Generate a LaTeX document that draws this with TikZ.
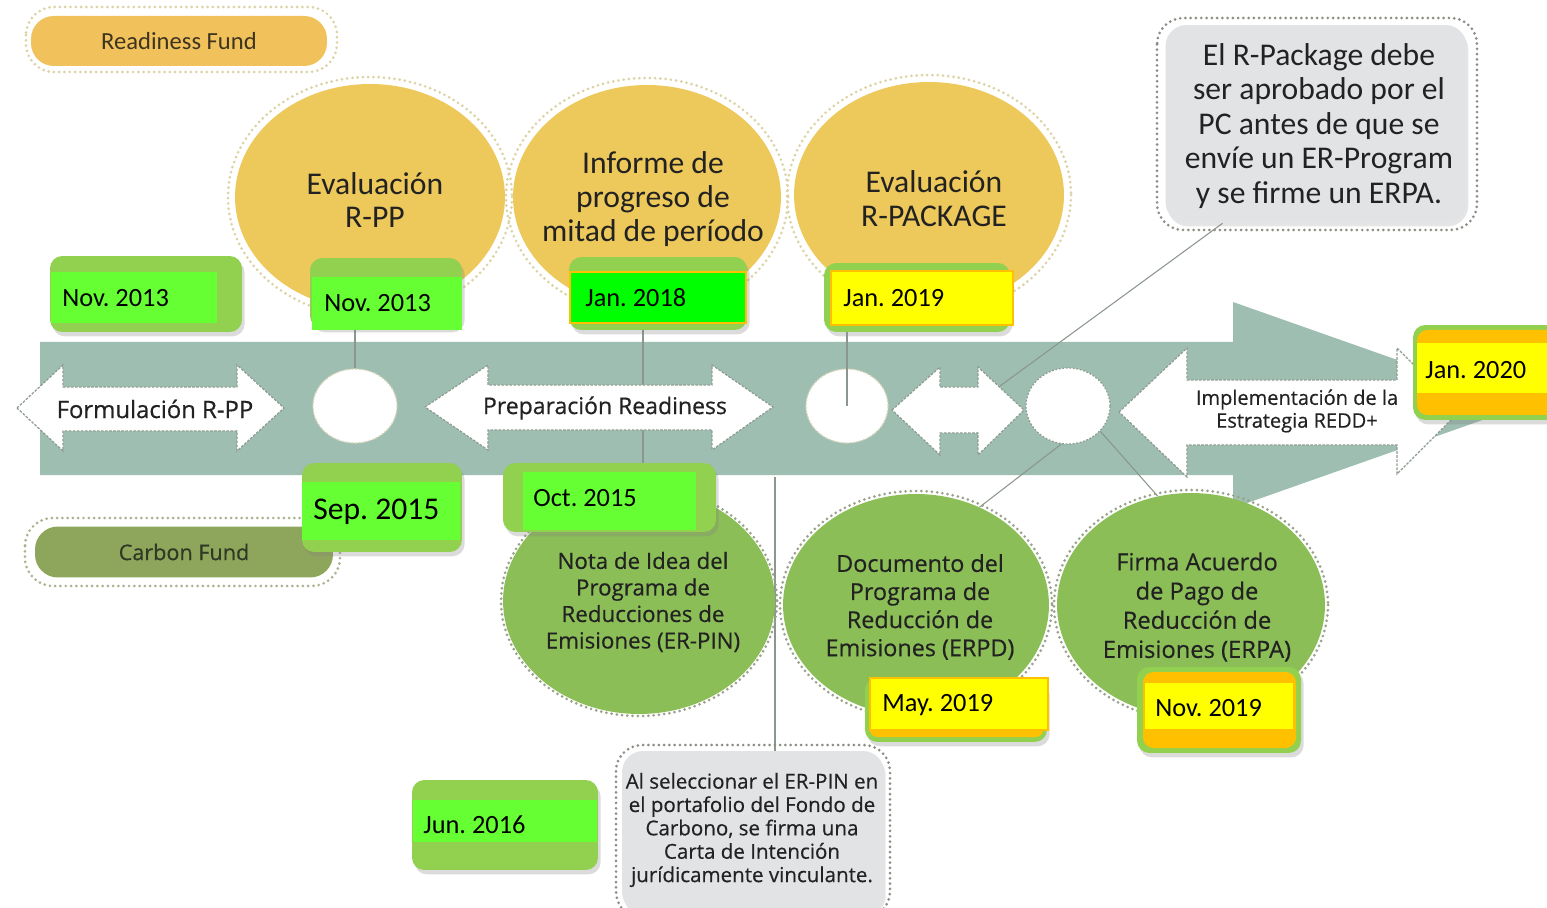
\documentclass[tikz,border=0pt]{standalone}
\usepackage{fontspec}
\setmainfont{Carlito}
\newfontfamily\os{Open Sans}[FakeBold=0.45]
\usetikzlibrary{shapes.geometric,shadows,calc}
\frenchspacing
\definecolor{band}{HTML}{9DBEB1}
\definecolor{yellowc}{HTML}{EDC85A}
\definecolor{yhalo}{HTML}{DCD3A4}
\definecolor{rfund}{HTML}{F1C25B}
\definecolor{rftext}{HTML}{3E3420}
\definecolor{cfund}{HTML}{8EA65B}
\definecolor{cftext}{HTML}{2F3A25}
\definecolor{cfhalo}{HTML}{A9B38C}
\definecolor{ghalo}{HTML}{9AA28A}
\definecolor{greenc}{HTML}{8CBE57}
\definecolor{notefill}{HTML}{E2E3E5}
\definecolor{notehalo}{HTML}{8D8D85}
\definecolor{dgreen}{HTML}{92D050}
\definecolor{bgreen}{HTML}{66FF33}
\definecolor{lgreen}{HTML}{00FF00}
\definecolor{orangec}{HTML}{FFC000}
\definecolor{yel}{HTML}{FFFF00}
\definecolor{linec}{HTML}{8A968E}
\definecolor{arrowedge}{HTML}{8E9C90}
\definecolor{wedge}{HTML}{D9D6BC}
\definecolor{txt}{HTML}{222222}
\pgfdeclarelayer{back}
\pgfdeclarelayer{mid}
\pgfsetlayers{back,mid,main}
\tikzset{
  yell/.style={ellipse, fill=yellowc, inner sep=0},
  grn/.style={ellipse, fill=greenc, inner sep=0},
  wcirc/.style={ellipse, fill=white, draw=wedge, dash pattern=on 1.2pt off 0.8pt, line width=0.7pt, inner sep=0},
  warrow/.style={fill=white, draw=arrowedge, dash pattern=on 1.5pt off 0.8pt, line width=0.7pt},
  halo/.style={draw=#1, line width=1.7pt, dash pattern=on 0pt off 3pt, line cap=round},
  obox/.style={rectangle, rounded corners=7pt, fill=dgreen, inner sep=0,
    drop shadow={shadow xshift=1.5pt, shadow yshift=-2.5pt, opacity=.28}},
  dtext/.style={anchor=west, inner sep=0, text=black, font=\fontsize{15}{18}\selectfont},
  conn/.style={draw=linec, line width=0.6pt},
  ytext/.style={align=center, inner sep=0, text=txt, font=\fontsize{18}{19.3}\selectfont},
  gtext/.style={align=center, inner sep=0, text=txt, font=\os\fontsize{13.3}{16}\selectfont},
  atext/.style={inner sep=0, text=txt, font=\os\fontsize{13.6}{16}\selectfont},
  notebox/.style={rectangle, rounded corners=12pt, fill=notefill, inner sep=0,
    drop shadow={shadow xshift=1pt, shadow yshift=-2pt, opacity=.2}},
}
\begin{document}
\begin{tikzpicture}[x=0.02cm,y=-0.02cm]
\useasboundingbox (0,0) rectangle (1547,908);
\begin{pgfonlayer}{back}
\fill[white] (0,0) rectangle (1547,908);
\fill[band] (40,342) -- (1233,342) -- (1233,302) -- (1525,405) -- (1233,508) -- (1233,475) -- (40,475) -- cycle;
\end{pgfonlayer}

% fund labels
\draw[halo=yhalo, rounded corners=16pt] (26,7) rectangle (337,72);
\node[rectangle, rounded corners=13pt, fill=rfund, minimum width=5.92cm, minimum height=1cm, inner sep=0,
  text=rftext, font=\fontsize{14}{16}\selectfont] (rf) at (179,41) {Readiness Fund};
\draw[halo=cfhalo, rounded corners=16pt] (25,518) rectangle (340,586);
\node[rectangle, rounded corners=13pt, fill=cfund, minimum width=5.96cm, minimum height=1.02cm, inner sep=0,
  text=cftext, font=\os\fontsize{12.3}{14}\selectfont] (cf) at (184,552) {Carbon Fund};

% white arrows on the band
\draw[warrow] (17,408) -- (63,365) -- (63,387) -- (237,387) -- (237,365) -- (284,408) -- (237,451) -- (237,431) -- (63,431) -- (63,451) -- cycle;
\node[atext] (formT) at (155,409) {Formulación R-PP};
\draw[warrow] (425,407) -- (488,365) -- (488,385) -- (712,385) -- (712,365) -- (773,407) -- (712,450) -- (712,430) -- (488,430) -- (488,450) -- cycle;
\node[atext, font=\os\fontsize{13.1}{16}\selectfont] (prepT) at (605,408) {Preparación Readiness};
\draw[warrow] (892,410) -- (940,367) -- (940,387) -- (978,387) -- (978,367) -- (1024,410) -- (978,455) -- (978,433) -- (940,433) -- (940,455) -- cycle;
\draw[warrow] (1119,412) -- (1187,348) -- (1187,380) -- (1397,380) -- (1397,348) -- (1460,411) -- (1397,474) -- (1397,445) -- (1187,445) -- (1187,477) -- cycle;
\node[align=center, inner sep=0, text=txt, font=\os\fontsize{11.4}{13}\selectfont] (implT) at (1297,411) {Implementación de la\\Estrategia REDD+};

% white circles
\node[wcirc, minimum width=1.68cm, minimum height=1.48cm] (c1) at (355,406) {};
\node[wcirc, minimum width=1.64cm, minimum height=1.48cm] (c2) at (847,406) {};
\node[wcirc, draw=arrowedge, dash pattern=on 1pt off 1pt, minimum width=1.68cm, minimum height=1.52cm] (c3) at (1068,406) {};
\coordinate (sarr) at (1000,386);
\coordinate (bandB) at (775,477);

% yellow ellipses
\draw[halo=yhalo] (370,197) ellipse [x radius=142, y radius=120];
\node[yell, minimum width=5.4cm, minimum height=4.52cm] (evrpp) at (370,197) {};
\node[ytext] (evrppT) at (375,200) {Evaluación\\R-PP};
\draw[halo=yhalo] (647,197) ellipse [x radius=141, y radius=119];
\node[yell, minimum width=5.36cm, minimum height=4.48cm] (inf) at (647,197) {};
\node[ytext] (infT) at (653,199) {Informe de\\progreso de\\mitad de período};
\draw[halo=yhalo] (929,195) ellipse [x radius=142, y radius=120];
\node[yell, minimum width=5.4cm, minimum height=4.52cm] (evpkg) at (929,195) {};
\node[ytext] (evpkgT) at (934,199) {Evaluación\\R-PACKAGE};

% green ellipses
\draw[halo=ghalo] (639,601) ellipse [x radius=138, y radius=115];
\node[grn, minimum width=5.44cm, minimum height=4.52cm] (erpin) at (639,601) {};
\node[gtext, font=\os\fontsize{12.7}{15.1}\selectfont] (erpinT) at (643,602) {Nota de Idea del\\Programa de\\Reducciones de\\Emisiones (ER-PIN)};
\draw[halo=ghalo] (916,605) ellipse [x radius=136, y radius=114];
\node[grn, minimum width=5.32cm, minimum height=4.44cm] (erpd) at (916,605) {};
\node[gtext] (erpdT) at (920,607) {Documento del\\Programa de\\Reducción de\\Emisiones (ERPD)};
\draw[halo=ghalo] (1191,605) ellipse [x radius=137, y radius=115];
\node[grn, minimum width=5.36cm, minimum height=4.48cm] (erpa) at (1191,605) {};
\node[gtext, font=\os\fontsize{13.5}{16.6}\selectfont] (erpaT) at (1197,607) {Firma Acuerdo\\de Pago de\\Reducción de\\Emisiones (ERPA)};

% notes
\draw[halo=notehalo, rounded corners=15pt] (1157,18) rectangle (1477,230);
\node[notebox, minimum width=6.02cm, minimum height=3.96cm] (note1) at (1316,124) {};
\node[ytext, font=\fontsize{18}{19.6}\selectfont] (note1T) at (1319,126) {El R-Package debe\\ser aprobado por el\\PC antes de que se\\envíe un ER-Program\\y se firme un ERPA.};
\draw[halo=notehalo, rounded corners=15pt] (616,745) rectangle (890,918);
\node[notebox, minimum width=5.24cm, minimum height=3.24cm] (note2) at (753,832) {};
\node[align=center, inner sep=0, text=txt, font=\os\fontsize{11.7}{13.3}\selectfont] (note2T) at (752,830) {Al seleccionar el ER-PIN en\\el portafolio del Fondo de\\Carbono, se firma una\\Carta de Intención\\jurídicamente vinculante.};

% date boxes
\node[obox, minimum width=3.84cm, minimum height=1.52cm] (n13a) at (146,294) {};
\fill[bgreen] (51,272) rectangle (217,323);
\node[dtext] (n13aT) at (62,298) {Nov. 2013};

\node[obox, minimum width=3.04cm, minimum height=1.4cm] (n13b) at (386,293) {};
\fill[bgreen] (312,277) rectangle (462,330);
\node[dtext] (n13bT) at (324,303) {Nov. 2013};

\node[obox, minimum width=3.56cm, minimum height=1.46cm] (j18) at (658,293.5) {};
\filldraw[fill=lgreen, draw=orangec, line width=1.2pt] (570,272) rectangle (746,323);
\node[dtext] (j18T) at (585,298) {Jan. 2018};

\node[obox, minimum width=3.72cm, minimum height=1.38cm] (j19) at (917,297.5) {};
\filldraw[fill=yel, draw=orangec, line width=1.2pt] (831,271) rectangle (1013,325);
\node[dtext] (j19T) at (843,298) {Jan. 2019};

\node[obox, minimum width=3.24cm, minimum height=1.9cm] (j20) at (1494,372.5) {};
\fill[orangec, rounded corners=6pt] (1417,330) rectangle (1575,415);
\fill[yel] (1417,343) rectangle (1560,393);
\node[dtext] (j20T) at (1425,370) {Jan. 2020};

\node[obox, minimum width=3.2cm, minimum height=1.78cm] (s15) at (382,507.5) {};
\fill[bgreen] (302,482) rectangle (460,540);
\node[dtext, font=\fontsize{18}{21}\selectfont] (s15T) at (313,512) {Sep. 2015};

\node[obox, minimum width=4.26cm, minimum height=1.38cm] (o15) at (609.5,497.5) {};
\fill[bgreen] (523,472) rectangle (696,530);
\node[dtext] (o15T) at (533,498) {Oct. 2015};

\node[obox, minimum width=3.64cm, minimum height=1.28cm] (m19) at (956,710) {};
\fill[orangec, rounded corners=4pt] (870,700) rectangle (1043,737);
\filldraw[fill=yel, draw=orangec, line width=1.2pt] (870,678) rectangle (1048,730);
\node[dtext] (m19T) at (882,705) {May. 2019};

\node[obox, minimum width=3.28cm, minimum height=1.72cm] (n19) at (1219,710) {};
\fill[orangec, rounded corners=6pt] (1143,672) rectangle (1296,748);
\fill[yel] (1145,683) rectangle (1293,729);
\node[dtext] (n19T) at (1155,708) {Nov. 2019};

\node[obox, minimum width=3.72cm, minimum height=1.8cm] (j16) at (505,825) {};
\fill[bgreen] (413,800) rectangle (597,842);
\node[dtext] (j16T) at (423,825) {Jun. 2016};

% connectors
\begin{pgfonlayer}{mid}
\draw[conn] (n13b.south -| c1.north) -- (c1.north);
\draw[conn] ([xshift=-0.3cm]j18.south) -- ([xshift=-0.3cm]j18.south |- o15.north);
\draw[conn] ($(note1.south west)!0.19!(note1.south east)$) -- (sarr);
\draw[conn] (bandB) -- (bandB |- note2.north);
\draw[conn] (c3.260) -- (erpd.57);
\draw[conn] (c3.-38) -- (erpa.107);
\end{pgfonlayer}
\draw[conn] (j19.south -| c2.center) -- (c2.center);
\end{tikzpicture}
\end{document}
